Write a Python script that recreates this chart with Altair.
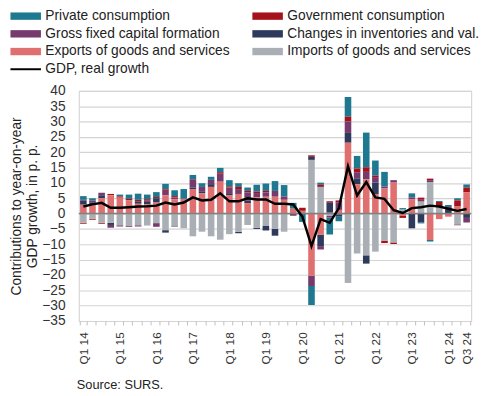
import altair as alt
import pandas as pd

quarters = [f"Q{q} {y}" for y in range(14, 25) for q in range(1, 5)][:43]

private = [1.2, 0.8, 0.0, 0.0, 0.6, 1.4, 2.0, 1.5, 1.6, 1.8, 1.9, 3.2, 1.4, 1.2, 1.0, 1.4,
           2.0, 1.2, 1.1, 2.2, 2.4, 3.2, 3.7, 1.9, -2.7, -6.2, 0.7, -5.5, -1.5, 6.4, 4.1, 11.3,
           4.9, 4.8, 0.0, 0.5, 1.3, -0.3, -0.5, 0.3, 0.7, 0.7, 1.0]
government = [-0.3, -0.3, -0.3, 0.4, 0.4, 0.5, 0.5, 0.5, 0.4, 0.5, 0.4, 0.0, 0.0, 0.0, 0.0, 0.5,
              0.4, 0.7, 0.5, 0.5, 0.5, 0.0, 0.0, 0.0, 1.0, 0.5, 0.7, 0.5, 0.6, 1.6, 1.2, 1.5,
              0.5, -0.8, -0.5, -0.8, 0.0, 0.7, 0.5, 1.0, 0.9, 2.0, 1.5]
gfcf = [0.3, 0.7, 0.8, -0.9, -0.4, -0.4, -0.4, 0.4, -1.2, 1.4, 0.6, 0.0, 2.7, 1.6, 1.4, 2.6,
        2.1, 1.6, 2.7, 1.4, 1.4, 1.9, 1.1, -0.7, 0.0, -3.4, -1.1, -0.5, 2.5, 3.7, 2.0, 2.4,
        1.8, 0.6, 0.8, 0.0, 0.7, 0.6, 0.6, 0.0, 0.0, -0.3, -1.5]
inventories = [1.3, 0.8, 1.0, -0.7, 0.0, 0.0, 0.8, 0.8, 1.4, -0.8, -0.3, 0.0, 0.5, 0.5, 0.9, 0.0,
               0.5, -0.5, 0.8, -0.4, -1.6, -2.2, 0.0, 0.0, 0.0, 1.0, -3.7, 3.2, -0.8, 3.2, 1.9, -2.7,
               3.7, 0.0, 0.0, 0.0, -4.8, -2.9, 0.0, 0.4, 1.2, 0.0, -1.4]
exports = [2.9, 2.7, 5.0, 6.0, 5.2, 4.3, 3.2, 3.0, 3.6, 6.0, 4.7, 4.8, 8.0, 6.6, 8.7, 10.4,
           5.9, 6.4, 3.4, 5.3, 5.5, 5.5, 4.5, 1.6, 0.9, -20.2, -6.9, 0.3, 1.2, 23.1, 9.6, 11.2,
           6.4, 8.2, 10.1, -0.6, 4.6, 0.0, -8.6, -1.8, -1.0, 2.3, 7.0]
imports = [-3.0, -1.7, -3.0, -3.0, -3.8, -3.9, -3.8, -3.9, -3.1, -5.4, -3.9, -4.8, -7.4, -5.9, -7.4, -8.5,
           -6.7, -5.9, -3.7, -4.6, -3.9, -5.0, -5.9, 0.0, 0.0, 17.5, 8.7, -0.8, -0.2, -22.6, -13.0, -13.6,
           -12.4, -8.8, -9.4, 1.3, 0.0, 3.9, 10.3, 2.4, 0.0, -3.5, 0.0]
gdp = [2.3, 3.0, 3.5, 1.9, 1.9, 2.1, 2.3, 2.4, 2.6, 3.6, 3.0, 3.6, 5.3, 4.3, 4.5, 6.6,
       4.0, 4.0, 5.0, 4.6, 4.6, 3.2, 3.2, 3.0, -1.0, -10.6, -1.8, -3.0, 1.8, 15.4, 5.9, 10.3,
       5.3, 4.8, 1.1, 0.2, 1.8, 2.1, 2.6, 2.3, 1.6, 0.9, 1.5]

components = ["Private consumption", "Government consumption", "Gross fixed capital formation",
              "Changes in inventories and val.", "Exports of goods and services",
              "Imports of goods and services"]
colors = ["#1e7890", "#a6121a", "#773a6c", "#2e3a5c", "#e07070", "#a9afb5"]
stack_rank = [5, 4, 3, 2, 1, 0]
series = [private, government, gfcf, inventories, exports, imports]

# legend is filled column by column: order entries so they read row by row
legend_order = [0, 2, 4, 1, 3, 5]
legend_domain = [components[i] for i in legend_order]
legend_range = [colors[i] for i in legend_order]

rows = []
for name, rank, vals in zip(components, stack_rank, series):
    for q, v in zip(quarters, vals):
        rows.append({"quarter": q, "component": name, "rank": rank, "value": v})
df = pd.DataFrame(rows)
df_gdp = pd.DataFrame({"quarter": quarters, "value": gdp, "label": "GDP, real growth"})
df_zero = pd.DataFrame({"value": [0]})

FONT = "Liberation Sans"

x_scale = alt.Scale(paddingInner=0.28, paddingOuter=0.14)
x_axis = alt.Axis(
    title=None, labelAngle=-90, labelFontSize=12, labelFont=FONT, labelColor="#333333",
    tickBand="extent", tickSize=4, tickColor="#bfbfbf", domain=False, grid=False,
    labelPadding=7,
    labelExpr="substring(datum.value,0,2)=='Q1' || datum.value=='Q3 24' ? datum.value : ''",
)
y_scale = alt.Scale(domain=[-35, 40], nice=False, zero=False)
y_axis = alt.Axis(
    values=list(range(-35, 41, 5)), title=["Contributions to year-on-year", "GDP growth, in p. p."],
    titleFont=FONT, titleFontSize=14, titleFontWeight="normal", titleColor="#222222",
    titleLineHeight=17, titlePadding=2,
    labelFont=FONT, labelFontSize=14, labelColor="#333333", labelPadding=14,
    ticks=False, domain=False, gridColor="#d4d4d4", gridWidth=1.2,
)

x_enc = alt.X("quarter:N", sort=quarters, scale=x_scale, axis=x_axis)

bars = alt.Chart(df).mark_bar().encode(
    x=x_enc,
    y=alt.Y("value:Q", stack="zero", scale=y_scale, axis=y_axis),
    color=alt.Color(
        "component:N",
        scale=alt.Scale(domain=legend_domain, range=legend_range),
        legend=alt.Legend(
            title=None, orient="none", legendX=-73, legendY=-83, columns=2,
            symbolType="M-1,-1.07H7.86V1.07H-1Z", symbolSize=49, symbolStrokeWidth=0,
            labelOffset=25, labelFont=FONT, labelFontSize=14, labelColor="#222222",
            columnPadding=19, rowPadding=4, labelLimit=300,
        ),
    ),
    order=alt.Order("rank:Q", sort="ascending"),
)

zero = alt.Chart(df_zero).mark_rule(color="#808080", strokeWidth=1.5).encode(
    y=alt.Y("value:Q", scale=y_scale, axis=y_axis)
)

line = alt.Chart(df_gdp).mark_line(strokeWidth=2.5).encode(
    x=x_enc,
    y=alt.Y("value:Q", scale=y_scale, axis=y_axis),
    stroke=alt.Stroke(
        "label:N",
        scale=alt.Scale(domain=["GDP, real growth"], range=["black"]),
        legend=alt.Legend(
            title=None, orient="none", legendX=-73, legendY=-29,
            symbolType="M-1,0H7.86", symbolSize=49, symbolStrokeWidth=2,
            labelOffset=25, labelFont=FONT, labelFontSize=14, labelColor="#222222",
        ),
    ),
)

chart = alt.layer(bars, zero, line).properties(
    width=399, height=234,
    autosize=alt.AutoSizeParams(type="none"),
    padding={"left": 72, "top": 81, "right": 11, "bottom": 73},
    title=alt.TitleParams(
        "Source: SURS.", orient="bottom", anchor="start", frame="group", fontSize=13,
        fontWeight="normal", font=FONT, color="#222222", offset=15, dx=-2,
    ),
).configure_view(stroke="#cfcfcf", strokeWidth=1)

chart.save("out.html", embed_options={"renderer": "svg", "actions": False})
